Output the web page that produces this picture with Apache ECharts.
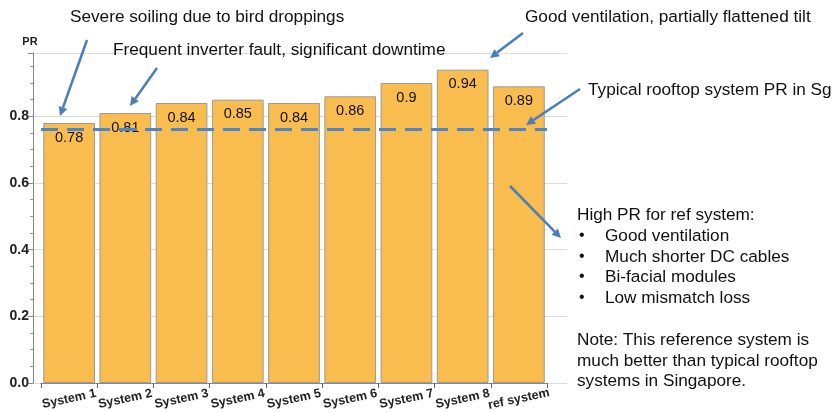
<!DOCTYPE html>
<html>
<head>
<meta charset="utf-8">
<script src="https://cdn.jsdelivr.net/npm/echarts@6/dist/echarts.min.js"></script>
<style>
  html, body { margin: 0; padding: 0; background: #fff; }
  #chart { width: 835px; height: 413px; }
</style>
</head>
<body>
<div id="chart"></div>
<script>
// Performance ratio per system
const categories = ['System 1', 'System 2', 'System 3', 'System 4', 'System 5',
                    'System 6', 'System 7', 'System 8', 'ref system'];
const prValues = [0.78, 0.81, 0.84, 0.85, 0.84, 0.86, 0.9, 0.94, 0.89];
const typicalPR = 0.76;
const yTicks = [0.0, 0.2, 0.4, 0.6, 0.8];

const FONT = '"Liberation Sans", Arial, sans-serif';
const ARROW = '#4A7EBB';

const chart = echarts.init(document.getElementById('chart'));

const yBase = {
  type: 'value', min: 0, max: 0.99, interval: 0.2
};

// annotation arrows: [x1, y1, x2, y2]
const arrows = [
  [87, 40, 60, 116],
  [157, 68, 130, 106],
  [523, 33, 490, 58],
  [580, 89, 526, 125],
  [510, 186, 561, 238]
];

function arrowGraphic(a) {
  const [x1, y1, x2, y2] = a;
  const ang = Math.atan2(y2 - y1, x2 - x1);
  const len = 9, w = 4.5;
  const bx = x2 - len * Math.cos(ang), by = y2 - len * Math.sin(ang);
  const px = -Math.sin(ang) * w, py = Math.cos(ang) * w;
  return [
    { type: 'line', z: 100, shape: { x1: x1, y1: y1, x2: bx, y2: by },
      style: { stroke: ARROW, lineWidth: 2.5 } },
    { type: 'polygon', z: 100, shape: { points: [[x2, y2], [bx + px, by + py], [bx - px, by - py]] },
      style: { fill: ARROW } }
  ];
}

const texts = [
  { x: 70, y: 17, t: 'Severe soiling due to bird droppings' },
  { x: 113, y: 50, t: 'Frequent inverter fault, significant downtime' },
  { x: 525, y: 17, t: 'Good ventilation, partially flattened tilt' },
  { x: 588, y: 90, t: 'Typical rooftop system PR in Sg' },
  { x: 577, y: 215, t: 'High PR for ref system:' },
  { x: 605, y: 236, t: 'Good ventilation' },
  { x: 605, y: 257, t: 'Much shorter DC cables' },
  { x: 605, y: 277, t: 'Bi-facial modules' },
  { x: 605, y: 298, t: 'Low mismatch loss' },
  { x: 577, y: 340, t: 'Note: This reference system is' },
  { x: 577, y: 361, t: 'much better than typical rooftop' },
  { x: 577, y: 381, t: 'systems in Singapore.' }
];
const bullets = [236, 257, 277, 298];

const graphics = [];
texts.forEach(o => graphics.push({
  type: 'text', x: o.x, y: o.y, z: 100,
  style: { text: o.t, font: '17.2px ' + FONT, fill: '#111', textVerticalAlign: 'middle' }
}));
bullets.forEach(y => graphics.push({
  type: 'text', x: 579, y: y, z: 100,
  style: { text: '•', font: '16px ' + FONT, fill: '#111', textVerticalAlign: 'middle' }
}));
arrows.forEach(a => arrowGraphic(a).forEach(g => graphics.push(g)));

chart.setOption({
  animation: false,
  backgroundColor: '#ffffff',
  grid: [
    { left: 33, right: 268, top: 53, bottom: 30 },
    { left: 41, right: 288, top: 53, bottom: 30 }
  ],
  xAxis: [
    { type: 'category', gridIndex: 0, data: [''], show: false },
    {
      type: 'category', gridIndex: 1, data: categories,
      axisLine: { show: true, lineStyle: { color: '#888', width: 1 } },
      axisTick: { show: true, alignWithLabel: false, length: 5,
                  lineStyle: { color: '#666' } },
      axisLabel: {
        rotate: 12, interval: 0, margin: 16,
        align: 'center', verticalAlign: 'middle',
        fontFamily: FONT, fontWeight: 'bold', fontSize: 12.5, color: '#222'
      }
    }
  ],
  yAxis: [
    Object.assign({}, yBase, {
      gridIndex: 0,
      name: 'PR',
      nameLocation: 'end',
      nameGap: 6,
      nameTextStyle: { fontFamily: FONT, fontWeight: 'bold', fontSize: 11,
                       color: '#222', align: 'center', padding: [0, 0, 0, -6] },
      axisLine: { show: true, lineStyle: { color: '#888', width: 1 } },
      axisTick: { show: true, length: 5, lineStyle: { color: '#888' } },
      minorTick: { show: true, splitNumber: 4, length: 3, lineStyle: { color: '#999' } },
      splitLine: { show: true, lineStyle: { color: '#dcdcdc', width: 1 } },
      axisLabel: {
        fontFamily: FONT, fontWeight: 'bold', fontSize: 14, color: '#222', margin: 4,
        formatter: v => yTicks.indexOf(Math.round(v * 10) / 10) >= 0 ? v.toFixed(1) : ''
      }
    }),
    Object.assign({}, yBase, { gridIndex: 1, show: false, splitLine: { show: false } })
  ],
  series: [
    {
      type: 'bar',
      xAxisIndex: 1, yAxisIndex: 1,
      data: prValues,
      barCategoryGap: '8%',
      itemStyle: { color: '#F9BC4F', borderColor: '#9a9a9a', borderWidth: 1 },
      label: {
        show: true, position: 'insideTop', distance: 7,
        fontFamily: FONT, fontSize: 14.5, color: '#111',
        formatter: p => String(p.value)
      },
      markLine: {
        silent: true, symbol: 'none',
        label: { show: false },
        lineStyle: { color: '#4A86C8', type: [17, 9], width: 3 },
        data: [{ yAxis: typicalPR }]
      },
      z: 2
    }
  ],
  graphic: graphics
});
</script>
</body>
</html>
